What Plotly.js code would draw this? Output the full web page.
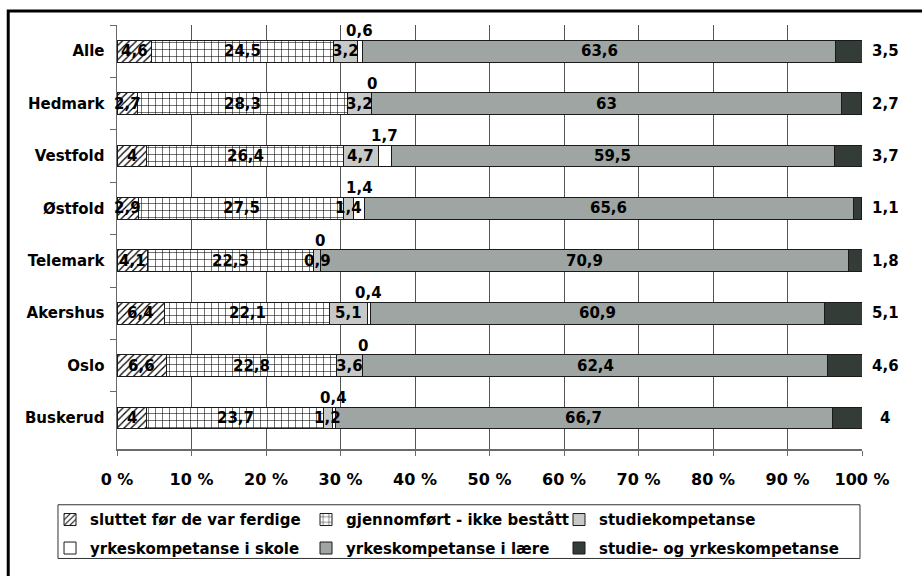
<!DOCTYPE html>
<html>
<head>
<meta charset="utf-8">
<script src="https://cdn.plot.ly/plotly-3.0.1.min.js"></script>
<style>html,body{margin:0;padding:0;background:#fff}#chart{width:922px;height:576px}</style>
</head>
<body>
<div id="chart"></div>
<script>
const categories = ['Alle','Hedmark','Vestfold','Østfold','Telemark','Akershus','Oslo','Buskerud'];
const sluttet = [4.6, 2.7, 4, 2.9, 4.1, 6.4, 6.6, 4];
const ikkeBestatt = [24.5, 28.3, 26.4, 27.5, 22.3, 22.1, 22.8, 23.7];
const studie = [3.2, 3.2, 4.7, 1.4, 0.9, 5.1, 3.6, 1.2];
const skole = [0.6, 0, 1.7, 1.4, 0, 0.4, 0, 0.4];
const laere = [63.6, 63, 59.5, 65.6, 70.9, 60.9, 62.4, 66.7];
const begge = [3.5, 2.7, 3.7, 1.1, 1.8, 5.1, 4.6, 4];
const seriesNames = ['sluttet før de var ferdige','gjennomført - ikke bestått','studiekompetanse',
  'yrkeskompetanse i skole','yrkeskompetanse i lære','studie- og yrkeskompetanse'];
const xTickVals = [0,10,20,30,40,50,60,70,80,90,100];

const FONT = 'DejaVu Sans, Verdana, sans-serif';
const fmt = v => String(v).replace('.', ',');
const lineStyle = {color:'#1a1a1a', width:1};
const labelFont = {family:FONT, size:15, color:'#000', weight:'bold'};

function bar(name, vals, marker, legend, group){
  return {
    type:'bar', orientation:'h', name:name, x:vals, y:categories,
    marker:Object.assign({line:lineStyle}, marker),
    legend:legend, legendgroup:group, hoverinfo:'x+name'
  };
}

const traces = [
  bar(seriesNames[0], sluttet, {color:'#fff', pattern:{shape:'/', fgcolor:'#000', bgcolor:'#fff', size:5, solidity:0.25}}, 'legend', 'g1'),
  bar(seriesNames[1], ikkeBestatt, {color:'#fff', pattern:{shape:'+', fgcolor:'#000', bgcolor:'#fff', size:7, solidity:0.15}}, 'legend2', 'g2'),
  bar(seriesNames[2], studie, {color:'#c7c9c7'}, 'legend3', 'g3'),
  bar(seriesNames[3], skole, {color:'#ffffff'}, 'legend', 'g4'),
  bar(seriesNames[4], laere, {color:'#9ea5a2'}, 'legend2', 'g5'),
  bar(seriesNames[5], begge, {color:'#343c38'}, 'legend3', 'g6')
];

// data labels: drawn as annotations so they sit above every segment
const annotations = [];
const inside = [sluttet, ikkeBestatt, studie];
categories.forEach((c, i) => {
  let cum = 0;
  inside.forEach(arr => {
    annotations.push({x: cum + arr[i]/2, y:c, xref:'x', yref:'y', text:fmt(arr[i]), showarrow:false, font:labelFont});
    cum += arr[i];
  });
  annotations.push({x: cum + skole[i]/2, y:c, xref:'x', yref:'y', text:fmt(skole[i]), showarrow:false,
    yshift:20, font:labelFont});
  cum += skole[i];
  annotations.push({x: cum + laere[i]/2, y:c, xref:'x', yref:'y', text:fmt(laere[i]), showarrow:false, font:labelFont});
  annotations.push({x:100, y:c, xref:'x', yref:'y', text:fmt(begge[i]), showarrow:false,
    xshift:23, font:labelFont});
});

const legendCommon = {orientation:'v', yanchor:'top', xanchor:'left', y:-0.128, bgcolor:'rgba(0,0,0,0)',
  font:{family:FONT, size:15, color:'#000', weight:'bold'}, tracegroupgap:6, traceorder:'grouped', itemclick:false};

const layout = {
  width:922, height:576,
  margin:{l:117, r:60, t:25, b:125},
  paper_bgcolor:'#fff', plot_bgcolor:'#fff',
  barmode:'stack', bargap:0.585,
  separators:', ',
  showlegend:true,
  xaxis:{range:[0,100], tickvals:xTickVals, ticktext:xTickVals.map(v => v + ' %'),
    showgrid:true, gridcolor:'#555', gridwidth:1, zeroline:false,
    showline:true, linecolor:'#6a6a6a', linewidth:1.5,
    ticks:'outside', ticklen:5, tickcolor:'#6a6a6a', ticklabelstandoff:10,
    tickfont:{family:FONT, size:16, color:'#000', weight:'bold'}, fixedrange:true},
  yaxis:{type:'category', autorange:'reversed', showgrid:false, zeroline:false,
    showline:true, linecolor:'#6a6a6a', linewidth:1.5,
    ticks:'outside', tickson:'boundaries', ticklen:6, tickcolor:'#6a6a6a', ticklabelstandoff:8,
    tickfont:{family:FONT, size:15, color:'#000', weight:'bold'}, fixedrange:true},
  legend:Object.assign({}, legendCommon, {x:-0.0899}),
  legend2:Object.assign({}, legendCommon, {x:0.2537}),
  legend3:Object.assign({}, legendCommon, {x:0.5933}),
  annotations:annotations,
  shapes:[
    {type:'rect', xref:'paper', yref:'paper', x0:-0.146, x1:1.3, y0:-0.5, y1:1.0329,
      line:{color:'#000', width:3}, fillcolor:'rgba(0,0,0,0)'},
    {type:'rect', xref:'paper', yref:'paper', x0:-0.0792, x1:0.9973, y0:-0.2582, y1:-0.1315,
      line:{color:'#333', width:1}, fillcolor:'rgba(0,0,0,0)'}
  ]
};

Plotly.newPlot('chart', traces, layout, {displayModeBar:false, staticPlot:true});
</script>
</body>
</html>
